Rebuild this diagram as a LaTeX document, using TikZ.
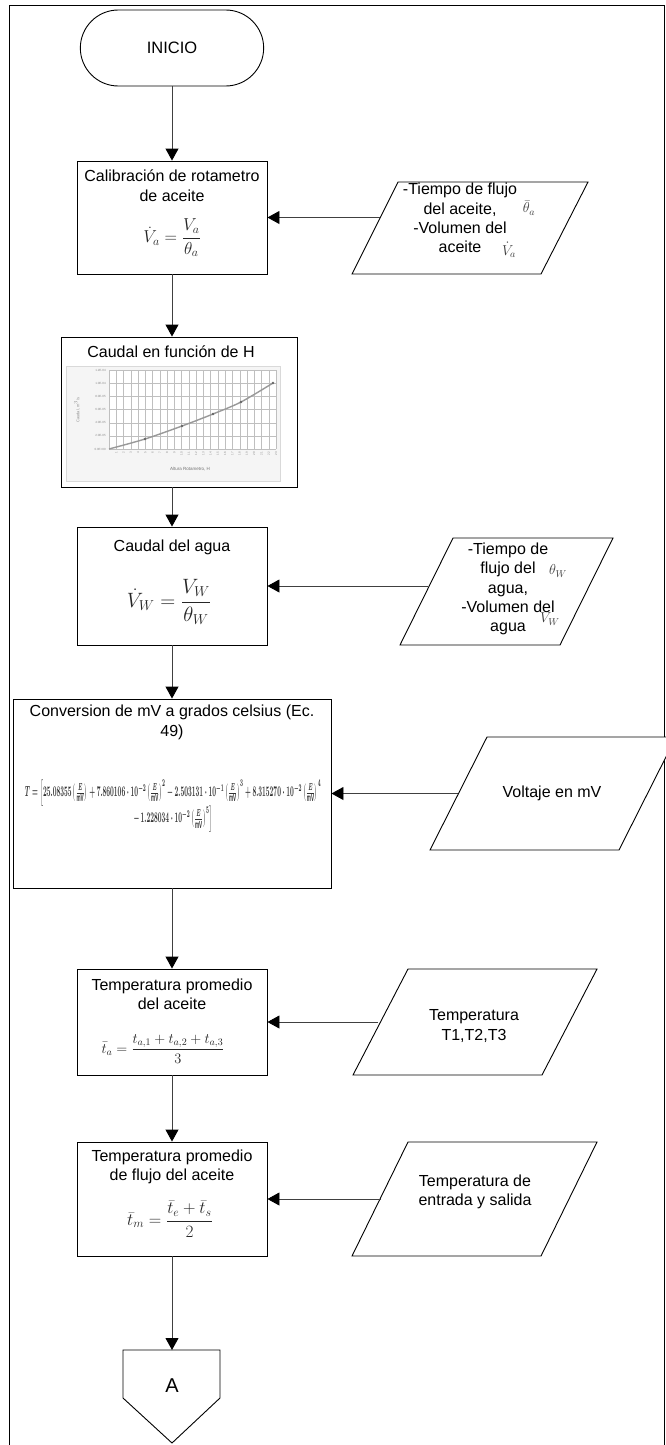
\documentclass[tikz,border=0pt]{standalone}
\usepackage{amsmath}
\usepackage{graphicx}
\usepackage{fontspec}
\setmainfont{Liberation Sans}
\usetikzlibrary{arrows.meta,shapes.misc}

% (E/mV) group used in the thermocouple polynomial
\newcommand{\emv}{\left(\frac{E}{\mathrm{mV}}\right)}

\tikzset{
  txt/.style={font=\fontsize{16}{19.4}\selectfont, align=center, inner sep=0pt},
  procbox/.style={draw=black, line width=0.9pt, fill=white, minimum width=190pt, inner sep=0pt},
  startbox/.style={rounded rectangle, draw=black, line width=0.9pt, minimum width=190pt,
                   minimum height=76pt, font=\fontsize{16.5}{19}\selectfont},
  iobox/.style={draw=black, line width=0.9pt, fill=white, line join=miter},
  flow/.style={draw=black!75, line width=0.9pt, -{Triangle[width=13pt,length=12pt,color=black]}},
  eq/.style={inner sep=0pt, text=black!85},
  sym/.style={inner sep=0pt, text=black!75, font=\fontsize{14}{14}\selectfont},
  grid/.style={draw=black!25, line width=0.35pt},
  ticklbl/.style={inner sep=0pt, text=black!45, font=\fontsize{3}{3}\selectfont},
}

\begin{document}
\begin{tikzpicture}[x=1pt, y=-1pt]
\useasboundingbox (0,0) rectangle (666,1445);

% page frame
\draw[line width=0.8pt] (9,1445) -- (9,5) -- (664,5) -- (664,1445);

% ---------- main column ----------
\node[startbox] (inicio) at (172,48) {INICIO};

\node[procbox, minimum height=113pt] (calib) at (172,217.5) {};
\node[txt] (calibT) at (172,185.5) {Calibración de rotametro\\de aceite};
\node[eq] (calibF) at (172,238) {\fontsize{17}{19}\selectfont$\dot{V}_{a}=\dfrac{V_{a}}{\theta_{a}}$};

\node[procbox, minimum width=236pt, minimum height=150pt] (chart) at (179,412) {};
\node[txt] (chartT) at (171,352) {Caudal en función de H};

% small calibration plot inside the box
\fill[black!4] (66,366) rectangle (280,481);
\draw[black!15, line width=0.4pt] (66,366) rectangle (280,481);
\fill[white] (109,370) rectangle (276,449);
\foreach \i in {0,...,23} \draw[grid] ({109+\i*7.26},370) -- ({109+\i*7.26},449);
\foreach \j in {0,...,6} \draw[grid] (109,{370+\j*13.17}) -- (276,{370+\j*13.17});
\draw[black!40, line width=1.4pt] plot[smooth] coordinates
  {(109,449) (145,439) (182,426) (213,414) (241,402) (273,383)};
\foreach \p in {(145,439),(182,426),(213,414),(241,402),(273,383)}
  \fill[black!60] \p circle (1.4pt);
\foreach \j/\v in {0/1.2E-04,1/1.0E-04,2/8.0E-05,3/6.0E-05,4/4.0E-05,5/2.0E-05,6/0.0E+00}
  \node[ticklbl, anchor=east] (yl\j) at (106,{370+\j*13.17}) {\v};
\foreach \i in {1,...,23}
  \node[ticklbl, rotate=90, anchor=east] (xl\i) at ({109+\i*7.26},452) {\i};
\node[ticklbl, rotate=90, font=\fontsize{4}{4}\selectfont] (ytitle) at (77,410) {Caudal, m$^3$/s};
\node[ticklbl, font=\fontsize{4.5}{4.5}\selectfont, text=black!55] (xtitle) at (190,469) {Altura Rotametro, H};

\node[procbox, minimum height=118pt] (agua) at (172,586) {};
\node[txt] (aguaT) at (172,547) {Caudal del agua};
\node[eq] (aguaF) at (169,602) {\fontsize{21}{23}\selectfont$\dot{V}_{W}=\dfrac{V_{W}}{\theta_{W}}$};

\node[procbox, minimum width=318pt, minimum height=189pt] (conv) at (172,793.5) {};
\node[txt] (convT) at (172,722.5) {Conversion de mV a grados celsius (Ec.\\49)};
\node[eq, text=black!80] (convF) at (173,806) {\resizebox{303pt}{30pt}{$\boldsymbol{\begin{array}{c}
  T=\Bigl[25.08355\emv+7.860106\cdot10^{-2}\emv^{2}-2.503131\cdot10^{-1}\emv^{3}+8.315270\cdot10^{-2}\emv^{4}\Bigr.\\[2pt]
  \Bigl.-\,1.228034\cdot10^{-2}\emv^{5}\Bigr]
\end{array}}$}};

\node[procbox, minimum height=106pt] (temp1) at (172,1022) {};
\node[txt] (temp1T) at (172,994) {Temperatura promedio\\del aceite};
\node[eq] (temp1F) at (163,1049) {\fontsize{14}{16}\selectfont$\bar{t}_{a}=\dfrac{t_{a,1}+t_{a,2}+t_{a,3}}{3}$};

\node[procbox, minimum height=114pt] (temp2) at (172,1199) {};
\node[txt] (temp2T) at (172,1167) {Temperatura promedio\\de flujo del aceite};
\node[eq] (temp2F) at (170,1219) {\fontsize{18}{20}\selectfont$\bar{t}_{m}=\dfrac{\bar{t}_{e}+\bar{t}_{s}}{2}$};

% off-page connector
\draw[iobox] (123,1350) -- (220,1350) -- (220,1398) -- (172,1443) -- (123,1398) -- cycle;
\coordinate (Atop) at (172,1350);
\node[txt, font=\fontsize{20}{22}\selectfont] (Atxt) at (172,1386) {A};

% ---------- input data (parallelograms) ----------
\draw[iobox] (398,182) -- (588,182) -- (541,274) -- (352,274) -- cycle;
\node[txt] (in1) at (460,218) {-Tiempo de flujo\\del aceite,\\-Volumen del\\aceite};
\node[sym] (in1a) at (529,208) {$\bar{\theta}_{a}$};
\node[sym] (in1b) at (509,250) {$\dot{V}_{a}$};
\coordinate (in1L) at (380,217.5);

\draw[iobox] (453,538) -- (613,538) -- (560,645) -- (400,645) -- cycle;
\node[txt] (in2) at (508,589) {-Tiempo de\\flujo del\\agua,\\-Volumen del\\agua};
\node[sym] (in2a) at (558,571) {$\theta_{W}$};
\node[sym] (in2b) at (550,619) {$V_{W}$};
\coordinate (in2L) at (428,586);

\draw[iobox] (487,737) -- (676,737) -- (619,850) -- (430,850) -- cycle;
\node[txt] (in3) at (552,793) {Voltaje en mV};
\coordinate (in3L) at (458,793.5);

\draw[iobox] (408,969) -- (597,969) -- (542,1075) -- (353,1075) -- cycle;
\node[txt] (in4) at (474,1026) {Temperatura\\T1,T2,T3};
\coordinate (in4L) at (378,1022);

\draw[iobox] (408,1142) -- (597,1142) -- (541,1256) -- (352,1256) -- cycle;
\node[txt] (in5) at (475,1192) {Temperatura de\\entrada y salida};
\coordinate (in5L) at (381,1199);

% ---------- connectors ----------
\draw[flow] (inicio.south) -- (calib.north);
\draw[flow] (calib.south) -- (calib.south |- chart.north);
\draw[flow] (agua.north |- chart.south) -- (agua.north);
\draw[flow] (agua.south) -- (conv.north);
\draw[flow] (conv.south) -- (temp1.north);
\draw[flow] (temp1.south) -- (temp2.north);
\draw[flow] (temp2.south) -- (Atop);

\draw[flow] (in1L) -- (calib.east);
\draw[flow] (in2L) -- (agua.east);
\draw[flow] (in3L) -- (conv.east);
\draw[flow] (in4L) -- (temp1.east);
\draw[flow] (in5L) -- (temp2.east);
\end{tikzpicture}
\end{document}
